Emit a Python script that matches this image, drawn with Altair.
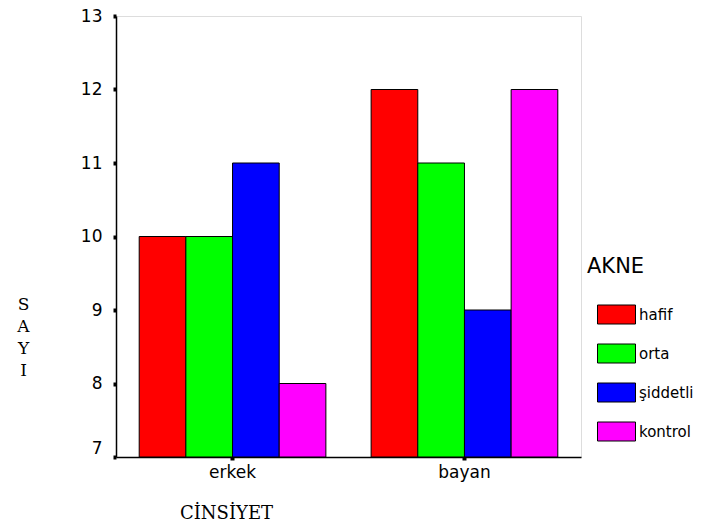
import altair as alt
import pandas as pd

cinsiyet = ["erkek", "bayan"]
akne = ["hafif", "orta", "şiddetli", "kontrol"]
erkek_vals = [10, 10, 11, 8]
bayan_vals = [12, 11, 9, 12]
colors = ["#FF0000", "#00FF00", "#0000FF", "#FF00FF"]

rows = []
for g, vals in zip(cinsiyet, [erkek_vals, bayan_vals]):
    for a, v in zip(akne, vals):
        rows.append({"cinsiyet": g, "akne": a, "sayi": v})
df = pd.DataFrame(rows)

sans = "DejaVu Sans"
serif = "DejaVu Serif"

bars = alt.Chart(df).mark_bar(stroke="black", strokeWidth=1, opacity=1).encode(
    x=alt.X("cinsiyet:N", sort=cinsiyet,
            scale=alt.Scale(paddingInner=0.195, paddingOuter=0.1),
            axis=alt.Axis(title="CİNSİYET", labelAngle=0, labelFont=sans, labelFontSize=17,
                          labelColor="black", labelPadding=4, tickSize=3, tickWidth=4,
                          tickColor="black", domainColor="black", domainWidth=1.5,
                          titleFont=serif, titleFontSize=18, titleFontWeight="normal",
                          titleColor="black", titleX=110, titleY=56, titleAnchor="middle",
                          titleAlign="center", titleBaseline="middle")),
    xOffset=alt.XOffset("akne:N", sort=akne, scale=alt.Scale(paddingInner=0, paddingOuter=0)),
    y=alt.Y("sayi:Q", scale=alt.Scale(domain=[7, 13], zero=False, nice=False),
            axis=alt.Axis(title=["S", "A", "Y", "I"], values=[7, 8, 9, 10, 11, 12, 13],
                          grid=False, labelFont=sans, labelFontSize=17, labelColor="black",
                          labelPadding=11, tickSize=3, tickWidth=4, tickColor="black",
                          labelBaseline=alt.condition("datum.value == 7", alt.value("bottom"), alt.value("middle")),
                          domainColor="black", domainWidth=1.5,
                          titleFont=serif, titleFontSize=17, titleFontWeight="normal",
                          titleColor="black", titleAngle=0, titleX=-93, titleY=288,
                          titleAlign="center", titleBaseline="middle", titleLineHeight=22.3)),
    y2=alt.datum(7),
    color=alt.Color("akne:N", sort=akne, scale=alt.Scale(domain=akne, range=colors),
                    legend=alt.Legend(title="AKNE", orient="none", legendX=471, legendY=240,
                                      titleFont=sans, titleFontSize=21, titleFontWeight="normal",
                                      titleColor="black", titlePadding=18,
                                      labelFont=sans, labelFontSize=15, labelColor="black",
                                      labelOffset=3, symbolOffset=10,
                                      symbolType="M-1,-0.5H1V0.5H-1Z", symbolSize=1444,
                                      symbolStrokeColor="black", symbolStrokeWidth=1,
                                      symbolOpacity=1, rowPadding=8)),
)

chart = bars.properties(
    width=465, height=441,
    autosize=alt.AutoSizeParams(type="none"),
    padding={"left": 108, "top": 8, "right": 120, "bottom": 67},
).configure_view(stroke="#222", strokeWidth=1.5).configure(background="white")

chart.save("out.html", embed_options={"renderer": "svg", "actions": False})
